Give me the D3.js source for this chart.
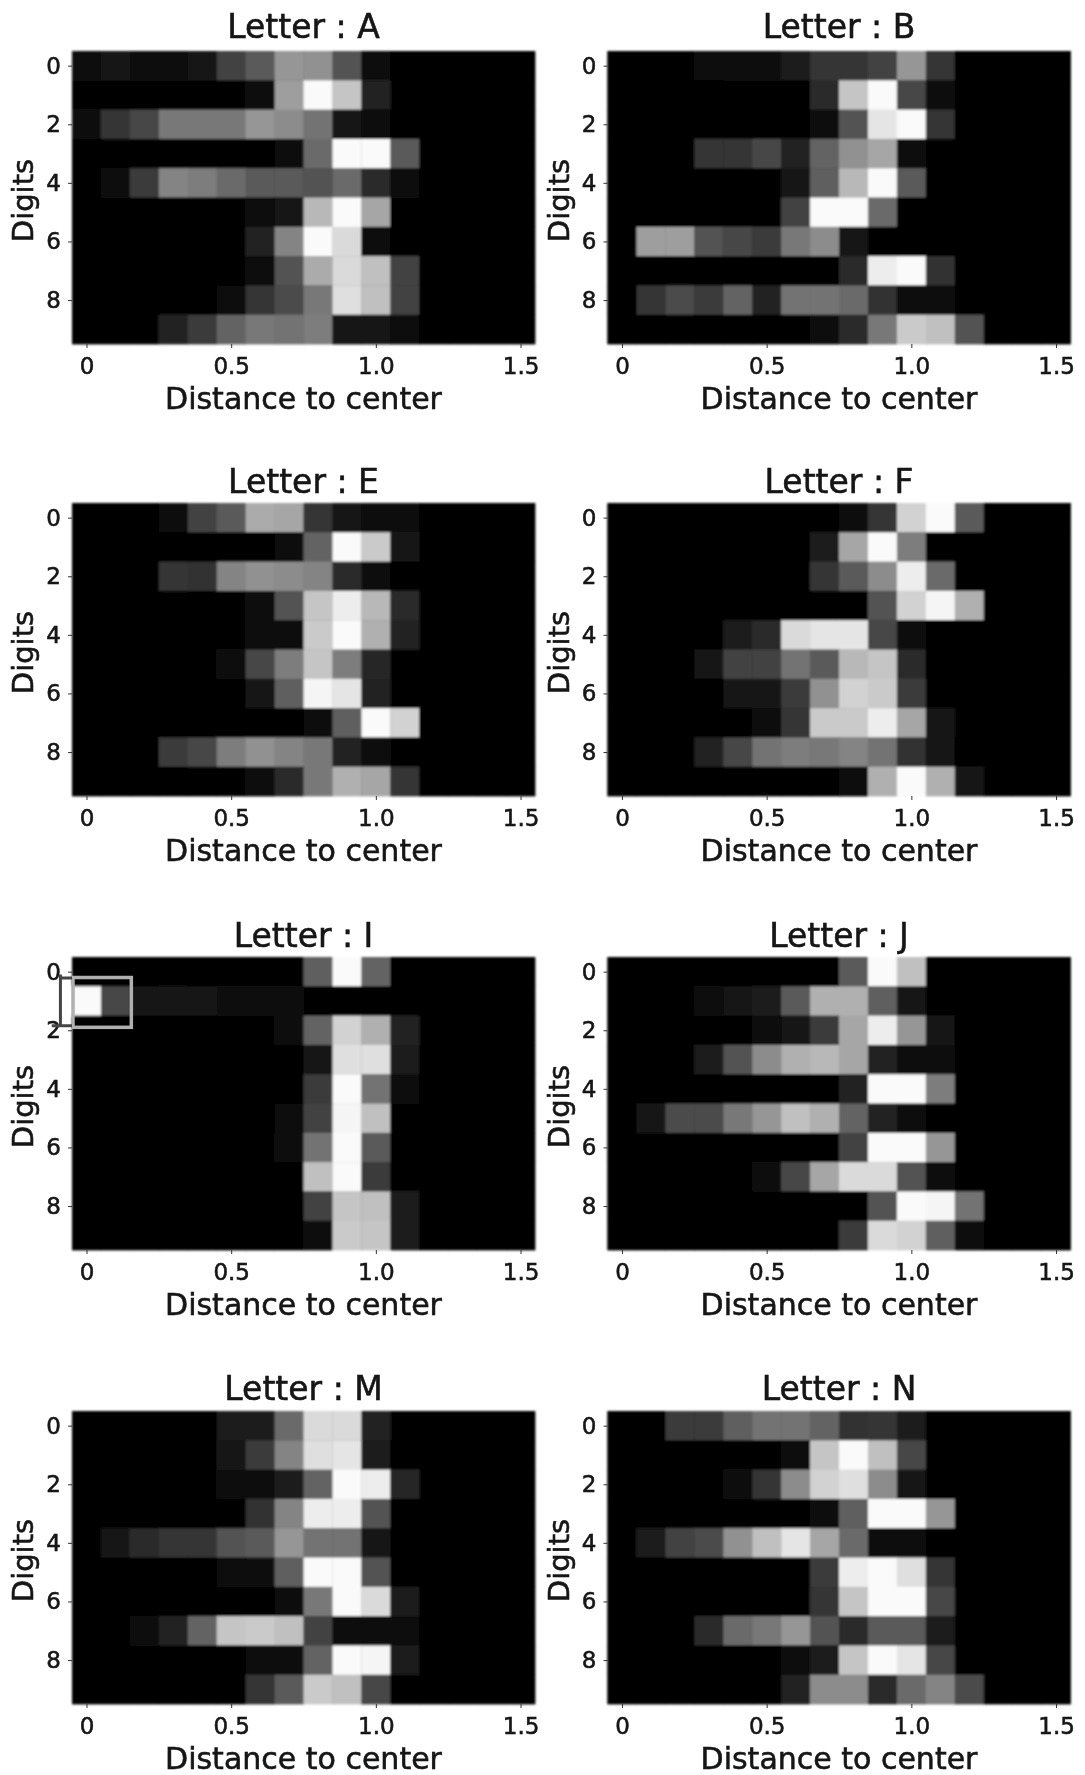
<!DOCTYPE html>
<html><head><meta charset="utf-8">
<style>
html,body{margin:0;padding:0;background:#fff;}
text{font-family:"DejaVu Sans",sans-serif;fill:#141414;stroke:#141414;stroke-width:0.55px;}
</style>
<script src="https://cdn.jsdelivr.net/npm/d3@7"></script>
</head><body>
<script>
const titles = ["Letter : A","Letter : B","Letter : E","Letter : F","Letter : I","Letter : J","Letter : M","Letter : N"];
const xTicks = [0,0.5,1.0,1.5];
const yTicks = [0,2,4,6,8];
const xValues = d3.range(16).map(i=>i/10);
const digits = d3.range(10);
const xLabel = "Distance to center";
const yLabel = "Digits";

// brightness per digit (row) and distance (column), 0..100
const letterA = [
[5,8,6,5,8,28,38,62,60,35,3,0,0,0,0,0],
[0,0,0,0,0,0,3,65,100,80,15,0,0,0,0,0],
[3,22,30,50,50,50,62,58,48,8,2,0,0,0,0,0],
[0,0,0,0,0,0,0,2,45,100,100,38,0,0,0,0],
[0,5,25,55,52,45,38,38,35,45,18,3,0,0,0,0],
[0,0,0,0,0,0,5,8,75,100,68,0,0,0,0,0],
[0,0,0,0,0,0,15,55,100,88,3,0,0,0,0,0],
[0,0,0,0,0,0,4,35,70,88,78,28,0,0,0,0],
[0,0,0,0,0,2,22,32,50,90,78,28,0,0,0,0],
[0,0,0,15,25,42,50,48,52,8,8,3,0,0,0,0]];
const letterB = [
[0,0,0,3,5,5,12,22,22,28,62,22,0,0,0,0],
[0,0,0,0,0,0,0,18,80,100,30,2,0,0,0,0],
[0,0,0,0,0,0,0,3,35,92,100,22,0,0,0,0],
[0,0,0,22,22,30,14,42,60,68,6,0,0,0,0,0],
[0,0,0,0,0,0,10,40,75,100,38,0,0,0,0,0],
[0,0,0,0,0,0,28,100,100,45,0,0,0,0,0,0],
[0,65,65,35,30,25,50,58,10,0,0,0,0,0,0,0],
[0,0,0,0,0,0,0,0,18,95,100,20,0,0,0,0],
[0,22,32,25,42,15,48,48,45,20,6,2,0,0,0,0],
[0,0,0,0,0,0,0,4,18,50,82,78,35,0,0,0]];
const letterE = [
[0,0,0,2,28,38,70,68,22,8,6,3,0,0,0,0],
[0,0,0,0,0,0,0,1,42,100,82,10,0,0,0,0],
[0,0,0,22,20,55,60,58,55,18,3,0,0,0,0,0],
[0,0,0,0,0,0,5,35,80,95,75,18,0,0,0,0],
[0,0,0,0,0,0,3,5,82,100,72,15,0,0,0,0],
[0,0,0,0,0,5,30,52,80,52,16,0,0,0,0,0],
[0,0,0,0,0,0,7,40,98,92,15,0,0,0,0,0],
[0,0,0,0,0,0,0,0,2,40,100,85,0,0,0,0],
[0,0,0,25,30,52,60,55,50,15,5,0,0,0,0,0],
[0,0,0,0,0,0,6,18,50,72,68,22,0,0,0,0]];
const letterF = [
[0,0,0,0,0,0,0,0,2,22,85,100,38,0,0,0],
[0,0,0,0,0,0,0,12,68,100,52,0,0,0,0,0],
[0,0,0,0,0,0,0,22,38,58,95,45,0,0,0,0],
[0,0,0,0,0,0,0,0,0,35,85,98,72,0,0,0],
[0,0,0,0,12,18,88,92,92,30,2,0,0,0,0,0],
[0,0,0,8,28,28,48,38,75,80,18,0,0,0,0,0],
[0,0,0,0,8,10,25,60,85,82,25,0,0,0,0,0],
[0,0,0,0,0,3,22,82,82,95,68,10,0,0,0,0],
[0,0,0,15,30,48,52,50,55,48,20,8,0,0,0,0],
[0,0,0,0,0,0,0,0,5,72,100,72,10,0,0,0]];
const letterI = [
[0,0,0,0,0,0,0,0,40,100,42,0,0,0,0,0],
[100,30,8,10,8,4,4,2,0,0,0,0,0,0,0,0],
[0,0,0,0,0,0,0,5,42,85,72,15,0,0,0,0],
[0,0,0,0,0,0,0,0,10,90,90,12,0,0,0,0],
[0,0,0,0,0,0,0,0,25,100,48,2,0,0,0,0],
[0,0,0,0,0,0,0,2,28,98,78,0,0,0,0,0],
[0,0,0,0,0,0,0,6,48,100,38,0,0,0,0,0],
[0,0,0,0,0,0,0,0,78,100,25,0,0,0,0,0],
[0,0,0,0,0,0,0,0,28,80,78,12,0,0,0,0],
[0,0,0,0,0,0,0,0,6,82,80,12,0,0,0,0]];
const letterJ = [
[0,0,0,0,0,0,0,0,38,100,78,0,0,0,0,0],
[0,0,0,5,8,12,38,72,72,40,10,0,0,0,0,0],
[0,0,0,0,0,3,7,25,68,95,62,8,0,0,0,0],
[0,0,0,12,35,58,72,75,68,15,5,3,0,0,0,0],
[0,0,0,0,0,0,0,0,15,100,100,52,0,0,0,0],
[0,10,32,32,50,62,78,72,42,15,2,0,0,0,0,0],
[0,0,0,0,0,0,0,0,28,100,100,62,0,0,0,0],
[0,0,0,0,0,4,30,68,88,88,35,3,0,0,0,0],
[0,0,0,0,0,0,0,0,0,35,100,98,48,0,0,0],
[0,0,0,0,0,0,0,0,25,88,85,40,5,0,0,0]];
const letterM = [
[0,0,0,0,0,12,12,45,88,88,15,0,0,0,0,0],
[0,0,0,0,0,10,25,55,90,92,12,0,0,0,0,0],
[0,0,0,0,0,3,5,12,42,100,95,16,0,0,0,0],
[0,0,0,0,0,0,20,55,95,95,35,0,0,0,0,0],
[0,10,18,22,22,35,38,62,48,48,10,0,0,0,0,0],
[0,0,0,0,0,2,6,40,100,100,35,0,0,0,0,0],
[0,0,0,0,0,0,0,3,50,100,88,12,0,0,0,0],
[0,0,5,15,42,80,82,78,28,5,4,3,0,0,0,0],
[0,0,0,0,0,0,2,5,42,100,98,12,0,0,0,0],
[0,0,0,0,0,0,22,38,82,78,30,0,0,0,0,0]];
const letterN = [
[0,0,25,25,40,48,48,42,20,22,12,0,0,0,0,0],
[0,0,0,0,0,0,3,80,100,78,30,0,0,0,0,0],
[0,0,0,0,4,22,58,85,90,58,10,0,0,0,0,0],
[0,0,0,0,0,0,0,2,40,100,100,62,0,0,0,0],
[0,12,28,32,60,78,92,68,45,5,2,0,0,0,0,0],
[0,0,0,0,0,0,0,25,95,100,90,22,0,0,0,0],
[0,0,0,0,0,0,0,22,80,100,100,30,0,0,0,0],
[0,0,0,18,45,50,62,35,18,38,38,12,0,0,0,0],
[0,0,0,0,0,0,3,12,80,100,92,30,0,0,0,0],
[0,0,0,0,0,0,15,58,58,18,45,55,32,0,0,0]];
const panels = [letterA,letterB,letterE,letterF,letterI,letterJ,letterM,letterN];

const W=1085,H=1775;
const colLeft=[72,607.5], rowTop=[51,503,957,1411], titleOffset=[-13,-10,-10,-11];
const pw=463, ph=293;
const gray=d3.scalePow().exponent(1.1).domain([0,100]).range([6,250]).clamp(true);
const x=d3.scaleLinear().domain([-0.05,1.55]).range([0,pw]);
const y=d3.scaleLinear().domain([-0.5,9.5]).range([0,ph]);

const svg=d3.select("body").append("svg").attr("width",W).attr("height",H).style("display","block");
const defs=svg.append("defs");
defs.append("filter").attr("id","soft").attr("x","-5%").attr("y","-5%").attr("width","110%").attr("height","110%")
  .append("feGaussianBlur").attr("stdDeviation",1.1);
defs.append("filter").attr("id","softText").attr("x","-10%").attr("y","-10%").attr("width","120%").attr("height","120%")
  .append("feGaussianBlur").attr("stdDeviation",0.7);

const root=svg.append("g");
panels.forEach((m,k)=>{
  const row=Math.floor(k/2);
  const g=root.append("g").attr("transform",`translate(${colLeft[k%2]},${rowTop[row]})`);
  const cells=g.append("g").attr("filter","url(#soft)");
  cells.append("rect").attr("width",pw).attr("height",ph).attr("fill",d3.rgb(gray(0),gray(0),gray(0)));
  digits.forEach(r=>{
    cells.selectAll(null).data(xValues).enter().append("rect")
      .attr("x",d=>x(d-0.05)).attr("y",y(r-0.5))
      .attr("width",x(0.1)-x(0)+0.4).attr("height",y(1)-y(0)+0.4)
      .attr("fill",(d,i)=>{const v=Math.round(gray(m[r][i]));return d3.rgb(v,v,v);});
  });
  const ax=g.append("g").attr("filter","url(#softText)");
  const xa=ax.append("g").attr("transform",`translate(0,${ph})`)
    .call(d3.axisBottom(x).tickValues(xTicks).tickFormat(d=>d===0?"0":d3.format(".1f")(d)).tickSize(4).tickPadding(10));
  const ya=ax.append("g").call(d3.axisLeft(y).tickValues(yTicks).tickSize(4).tickPadding(7));
  [xa,ya].forEach(a=>{
    a.select(".domain").remove();
    a.selectAll("line").attr("stroke","#333").attr("stroke-width",1);
    a.selectAll("text").attr("font-size",23).style("font-family",'"DejaVu Sans"').attr("fill","#141414");
  });
  ax.append("text").attr("x",pw/2).attr("y",titleOffset[row]).attr("text-anchor","middle").attr("font-size",33).text(titles[k]);
  ax.append("text").attr("x",pw/2).attr("y",ph+65).attr("text-anchor","middle").attr("font-size",30).text(xLabel);
  ax.append("text").attr("transform",`translate(-39,${ph/2+3}) rotate(-90)`).attr("text-anchor","middle").attr("font-size",29).text(yLabel);

  if(titles[k]==="Letter : I"){
    // stray inset frame over the first cells of row 1, with a bracket left of it
    const f=g.append("g").attr("filter","url(#softText)");
    const fx0=x(-0.05), fx1=x(0.155), fy0=y(0.2), fy1=y(1.9);
    f.append("rect").attr("x",fx0+1).attr("y",fy0).attr("width",fx1-fx0-1).attr("height",fy1-fy0)
      .attr("fill","none").attr("stroke","#b0b0b0").attr("stroke-width",3.5);
    f.append("path").attr("fill","none").attr("stroke","#444").attr("stroke-width",3)
      .attr("d",`M${x(-0.09)},${y(0.1)}V${y(1.85)}M${x(-0.09)},${y(0.22)}H${x(-0.05)}M${x(-0.12)},${y(1.85)}H${x(-0.05)}`);
  }
});
</script>
</body></html>
